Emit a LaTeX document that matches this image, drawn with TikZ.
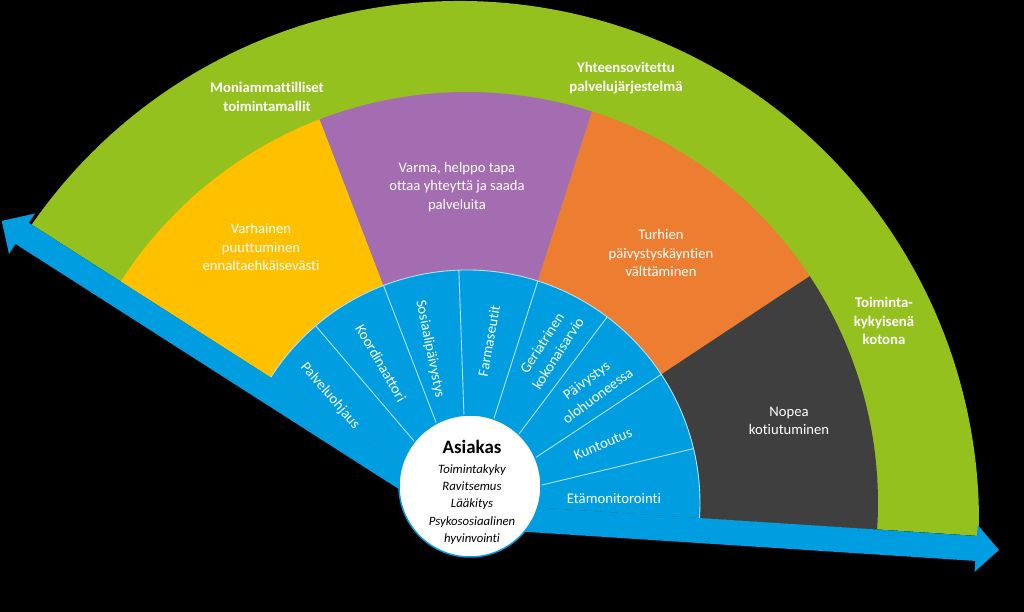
\documentclass[tikz,border=0pt]{standalone}
\usepackage{fontspec}
\setmainfont{Carlito}[Ligatures=NoCommon]
\usetikzlibrary{calc}
\definecolor{fanblue}{HTML}{009EE0}
\definecolor{fangreen}{HTML}{95C11F}
\definecolor{fanyellow}{HTML}{FFC000}
\definecolor{fanpurple}{HTML}{A46DB1}
\definecolor{fanorange}{HTML}{ED7D31}
\definecolor{fangrey}{HTML}{3F3F3F}

\begin{document}
\begin{tikzpicture}[x=1bp, y=1bp,
        ringtext/.style={white, align=center, inner sep=0pt, font=\fontsize{14.7}{18.5}\selectfont},
        rimtext/.style={white, align=center, inner sep=0pt, font=\bfseries\fontsize{14.8}{18.5}\selectfont},
        spoketext/.style={white, align=center, inner sep=0pt, font=\fontsize{14.8}{19}\selectfont},
        divider/.style={white!70!fanblue, line width=0.9bp},
        client/.style={circle, fill=white, draw=fanblue, line width=1.5bp, minimum size=142bp, inner sep=0pt}
    ]
        % Background
        \fill[black] (-467,-109) rectangle (557,503);
        \useasboundingbox (-467,-109) rectangle (557,503);

        % Outer ring
        \fill[fangreen] (0,0) -- ($(-8,-18)+(145.25:520bp)$) arc[start angle=145.25, end angle=-1.65, radius=520bp] -- cycle;

        % Middle ring
        \fill[fanyellow] (0,0) -- (147.4:411bp) arc[start angle=147.4, end angle=111, radius=411bp] -- cycle;
        \fill[fanpurple] (0,0) -- (111:411bp) arc[start angle=111, end angle=72.3, radius=411bp] -- cycle;
        \fill[fanorange] (0,0) -- (72.3:411bp) arc[start angle=72.3, end angle=33.5, radius=411bp] -- cycle;
        \fill[fangrey] (0,0) -- (33.5:411bp) arc[start angle=33.5, end angle=-3.7, radius=411bp] -- cycle;

        % Inner ring
        \fill[fanblue] (0,0) -- (147.4:233bp) arc[start angle=147.4, end angle=-3.7, radius=233bp] -- cycle;
        \draw[divider] (147.4:233bp) arc[start angle=147.4, end angle=-3.7, radius=233bp];
        \draw[divider] (0,0) -- (130.5:233bp);
        \draw[divider] (0,0) -- (111:233bp);
        \draw[divider] (0,0) -- (92:233bp);
        \draw[divider] (0,0) -- (72.3:233bp);
        \draw[divider] (0,0) -- (53:233bp);
        \draw[divider] (0,0) -- (33.5:233bp);
        \draw[divider] (0,0) -- (13.5:233bp);

        % Arrows
        \fill[fanblue, rotate=-3.7] (0,0) -- (511,0) -- (511,11) -- (534,-12.5) -- (511,-36) -- (511,-25) -- (-6.4,-25) -- cycle;
        \fill[fanblue, rotate=147.4] (0,0) -- (520,0) -- (520,-11) -- (544,13) -- (520,37) -- (520,25) -- (-6.4,25) -- cycle;

        % Client
        \node[client] (asiakas) at (3,17) {};
        \node[inner sep=0pt, font=\bfseries\fontsize{19}{22}\selectfont] (a1) at (5,56.5) {Asiakas};
        \node[inner sep=0pt, align=center, font=\itshape\fontsize{12.8}{17.3}\selectfont] (a2) at (5,-1.5) {Toimintakyky\\Ravitsemus\\Lääkitys\\Psykososiaalinen\\hyvinvointi};

        % Inner ring texts
        \node[spoketext, rotate=-49] (s1) at (-137,107) {Palveluohjaus};
        \node[spoketext, rotate=-60] (s2) at (-86,140) {Koordinaattori};
        \node[spoketext, rotate=-78.5] (s3) at (-37,154) {Sosiaalipäivystys};
        \node[spoketext, rotate=80] (s4) at (22,162) {Farmaseutit};
        \node[spoketext, rotate=57] (s5) at (83,155) {Geriatrinen\\kokonaisarvio};
        \node[spoketext, rotate=36.5] (s6) at (125,115) {Päivystys\\olohuoneessa};
        \node[spoketext, rotate=22.6] (s7) at (136,59) {Kuntoutus};
        \node[spoketext] (s8) at (147,5) {Etämonitorointi};

        % Middle ring texts
        \node[ringtext] (m1) at (-206,256) {Varhainen\\puuttuminen\\ennaltaehkäisevästi};
        \node[ringtext] (m2) at (-10,316) {Varma, helppo tapa\\ottaa yhteyttä ja saada\\palveluita};
        \node[ringtext] (m3) at (194,250) {Turhien\\päivystyskäyntien\\välttäminen};
        \node[ringtext] (m4) at (322,82) {Nopea\\kotiutuminen};

        % Outer ring texts
        \node[rimtext] (o1) at (-200,406) {Moniammattilliset\\toimintamallit};
        \node[rimtext] (o2) at (159,425) {Yhteensovitettu\\palvelujärjestelmä};
        \node[rimtext] (o3) at (417,182) {Toiminta-\\kykyisenä\\kotona};
\end{tikzpicture}
\end{document}
